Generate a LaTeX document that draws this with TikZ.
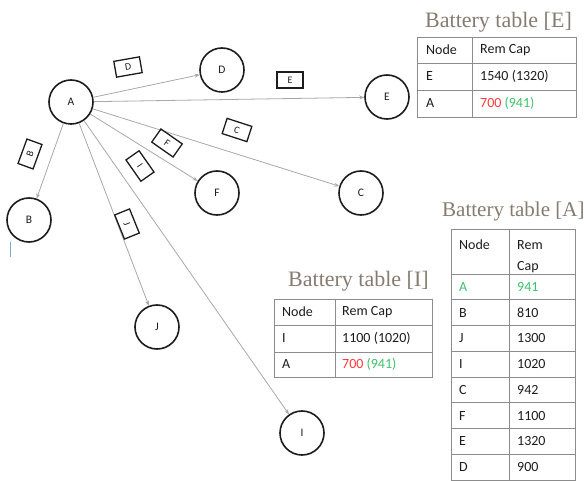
\documentclass[tikz,border=0pt]{standalone}
\usepackage{fontspec}
\setmainfont{Carlito}
\newfontfamily\titlefont{Liberation Serif}
\usetikzlibrary{arrows.meta}
\definecolor{edgegray}{HTML}{A8A8A8}
\definecolor{titlegray}{HTML}{857B70}
\definecolor{gridgray}{HTML}{8C8C8C}
\definecolor{lowred}{HTML}{FF3B3B}
\definecolor{capgreen}{HTML}{3CC26A}
\definecolor{inkgray}{HTML}{1C1C1C}
\definecolor{cursorblue}{HTML}{7DA7D9}
\begin{document}
\begin{tikzpicture}[x=1pt,y=-1pt,
  vertex/.style={circle,draw=inkgray,line width=1.6pt,minimum size=44pt,inner sep=0pt,
    font=\fontsize{11.5}{11.5}\selectfont,text=inkgray},
  link/.style={draw=edgegray,line width=0.8pt,-{Stealth[length=5pt,width=4pt]}},
  tag/.style={draw=inkgray,line width=1.3pt,minimum width=26pt,minimum height=16pt,
    inner sep=0pt,font=\fontsize{10}{10}\selectfont,text=inkgray},
  tabtitle/.style={font=\titlefont\fontsize{22}{22}\selectfont,text=titlegray,
    anchor=base west,inner sep=0pt},
  cell/.style={font=\fontsize{14}{14}\selectfont,text=inkgray,anchor=west,inner sep=0pt},
  grid/.style={draw=gridgray,line width=0.8pt}]
\useasboundingbox (0,0) rectangle (584,481);

% ---- network nodes ----
\node[vertex] (A) at (71,102) {A};
\node[vertex] (D) at (222,70) {D};
\node[vertex] (E) at (387,97) {E};
\node[vertex] (F) at (217,193) {F};
\node[vertex] (C) at (361,193) {C};
\node[vertex] (B) at (29,220) {B};
\node[vertex] (J) at (157,327) {J};
\node[vertex] (I) at (302,433) {I};

% ---- links from A ----
\foreach \t in {D,E,C,F,I,J,B} \draw[link] (A) -- (\t);

% ---- link tags ----
\node[tag,rotate=10]  (tD) at (128,67)  {D};
\node[tag]            (tE) at (290,80)  {E};
\node[tag,rotate=-18] (tC) at (237,130) {C};
\node[tag,rotate=-35] (tF) at (167,143) {F};
\node[tag,rotate=-55] (tI) at (140,166) {I};
\node[tag,rotate=-68] (tJ) at (127,224) {J};
\node[tag,rotate=70]  (tB) at (30,154)  {B};

% text cursor mark
\draw[cursorblue,line width=0.8pt] (10,242) -- (10,257);

% ---- Battery table [E] ----
\node[tabtitle] (titleE) at (425,28) {Battery table [E]};
\draw[grid] (417,37) rectangle (576,117);
\draw[grid] (472,37) -- (472,117);
\draw[grid] (417,63) -- (576,63);
\draw[grid] (417,90) -- (576,90);
\node[cell] (e11) at (426,50)    {Node};
\node[cell] (e12) at (480,50)    {Rem Cap};
\node[cell] (e21) at (426,76.5)  {E};
\node[cell] (e22) at (480,76.5)  {1540 (1320)};
\node[cell] (e31) at (426,103.5) {A};
\node[cell] (e32) at (480,103.5) {\textcolor{lowred}{700} \textcolor{capgreen}{(941)}};

% ---- Battery table [I] ----
\node[tabtitle] (titleI) at (288,287) {Battery table [I]};
\draw[grid] (274,299) rectangle (432,377);
\draw[grid] (335,299) -- (335,377);
\draw[grid] (274,325) -- (432,325);
\draw[grid] (274,352) -- (432,352);
\node[cell] (i11) at (282,312)   {Node};
\node[cell] (i12) at (342,312)   {Rem Cap};
\node[cell] (i21) at (282,338.5) {I};
\node[cell] (i22) at (342,338.5) {1100 (1020)};
\node[cell] (i31) at (282,364.5) {A};
\node[cell] (i32) at (342,364.5) {\textcolor{lowred}{700} \textcolor{capgreen}{(941)}};

% ---- Battery table [A] ----
\node[tabtitle,font=\titlefont\fontsize{21}{21}\selectfont] (titleA) at (442,217) {Battery table [A]};
\draw[grid] (451,229) rectangle (575,480);
\draw[grid] (509,229) -- (509,480);
\foreach \k in {0,...,7} \draw[grid] (451,274+25.75*\k) -- (575,274+25.75*\k);
\node[cell] (a01) at (459,245) {Node};
\node[cell] (a02) at (517,245) {Rem};
\node[cell] (a03) at (517,267) {Cap};
\foreach \n/\v [count=\k from 0] in {A/941,B/810,J/1300,I/1020,C/942,F/1100,E/1320,D/900}{
  \ifnum\k=0
    \node[cell,text=capgreen] (an\k) at (459,286.9) {\n};
    \node[cell,text=capgreen] (av\k) at (517,286.9) {\v};
  \else
    \node[cell] (an\k) at (459,286.9+25.75*\k) {\n};
    \node[cell] (av\k) at (517,286.9+25.75*\k) {\v};
  \fi
}
\end{tikzpicture}
\end{document}
